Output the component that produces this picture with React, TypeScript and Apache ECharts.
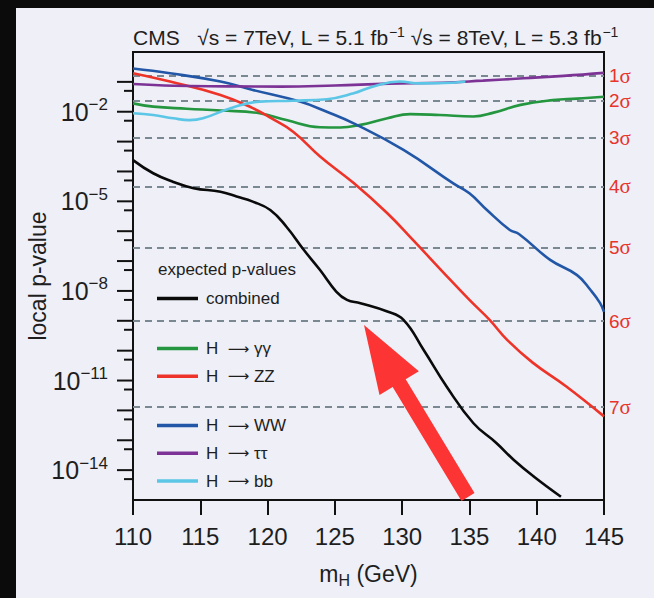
import React, { useEffect, useRef } from "react";
import * as echarts from "echarts";

// Expected local p-values, stored as log10(p), against Higgs mass m_H in GeV.
const massCombined = [110, 111.5, 113, 114.5, 116.5, 117.7, 118.9, 120.2, 121.4, 122.7, 123.9, 125.1, 125.9, 126.9, 128.9, 130.1, 131.6, 133.3, 135.3, 137.0, 138.3, 139.8, 141.8];
const logPCombined = [-3.62, -4.06, -4.35, -4.56, -4.68, -4.84, -5.01, -5.29, -5.85, -6.63, -7.3, -8.02, -8.3, -8.41, -8.69, -8.97, -9.98, -11.2, -12.43, -13.09, -13.66, -14.22, -14.89];

const massGG = [110, 111.5, 114, 116.5, 119.4, 121.4, 123.9, 125.4, 126.9, 128.9, 130.6, 132.8, 135.3, 136.8, 138.8, 141.2, 143, 145];
const logPGG = [-1.72, -1.83, -1.9, -1.96, -2.05, -2.28, -2.52, -2.53, -2.44, -2.22, -2.08, -2.11, -2.16, -2.03, -1.77, -1.61, -1.56, -1.5];

const massZZ = [110, 112.75, 116.5, 118.9, 120.2, 121.9, 123.9, 126.4, 128.9, 130.8, 133.0, 135.0, 136.5, 137.8, 139.7, 142.2, 145];
const logPZZ = [-0.71, -0.99, -1.44, -1.88, -2.2, -2.67, -3.5, -4.39, -5.4, -6.29, -7.35, -8.3, -8.97, -9.64, -10.4, -11.2, -12.2];

const massWW = [110, 112.75, 116.5, 118.9, 122.4, 124.4, 126.4, 130.1, 133.8, 135.0, 136.3, 138.0, 138.7, 141.0, 143.0, 144.0, 144.7, 145];
const logPWW = [-0.55, -0.71, -0.99, -1.27, -1.66, -2.0, -2.39, -3.28, -4.4, -4.73, -5.29, -5.96, -6.1, -6.96, -7.47, -7.97, -8.4, -8.7];

const massTT = [110, 113, 117, 121, 125, 129, 133, 136, 139, 142, 145];
const logPTT = [-1.07, -1.13, -1.15, -1.16, -1.12, -1.06, -1.03, -0.96, -0.88, -0.8, -0.7];

const massBB = [110, 111.5, 113, 114.2, 115.2, 117.2, 119.4, 121.9, 124.4, 126.4, 127.8, 129.8, 131.3, 133.7, 134.7];
const logPBB = [-2.05, -2.11, -2.22, -2.28, -2.22, -1.89, -1.66, -1.63, -1.58, -1.38, -1.16, -0.99, -1.05, -1.03, -0.99];

// One-sided Gaussian tail probabilities for 1..7 sigma
const sigmaLevels = [1, 2, 3, 4, 5, 6, 7];
const sigmaPValues = [1.587e-1, 2.275e-2, 1.35e-3, 3.167e-5, 2.867e-7, 9.866e-10, 1.28e-12];

// Axis ticks
const massTickStep = 5;
const decadeExponents = [-14, -13, -12, -11, -10, -9, -8, -7, -6, -5, -4, -3, -2, -1];
const labelledExponents = [-14, -11, -8, -5, -2];
const minorTickMantissa = 5;

const channels = [
  { name: "combined", color: "#0a0a0a", mass: massCombined, logP: logPCombined },
  { name: "H → γγ", color: "#23963f", mass: massGG, logP: logPGG },
  { name: "H → ZZ", color: "#ee3328", mass: massZZ, logP: logPZZ },
  { name: "H → WW", color: "#2256a6", mass: massWW, logP: logPWW },
  { name: "H → ττ", color: "#7c3395", mass: massTT, logP: logPTT },
  { name: "H → bb", color: "#5cc6e6", mass: massBB, logP: logPBB },
];

const FONT = "'Liberation Sans', Arial, sans-serif";
const ARROW_FONT = "'DejaVu Sans', sans-serif";
const INK = "#1e1e1e";

const arrowTail = [468, 497];
const arrowTip = [364, 325];

function arrowPoints(): number[][] {
  const dx = arrowTip[0] - arrowTail[0];
  const dy = arrowTip[1] - arrowTail[1];
  const len = Math.hypot(dx, dy);
  const ux = dx / len, uy = dy / len;
  const px = -uy, py = ux;
  const headLen = 68, shaftHalf = 7.6, headHalf = 23;
  const bx = arrowTip[0] - ux * headLen, by = arrowTip[1] - uy * headLen;
  return [
    [arrowTail[0] + px * shaftHalf, arrowTail[1] + py * shaftHalf],
    [bx + px * shaftHalf, by + py * shaftHalf],
    [bx + px * headHalf, by + py * headHalf],
    [arrowTip[0], arrowTip[1]],
    [bx - px * headHalf, by - py * headHalf],
    [bx - px * shaftHalf, by - py * shaftHalf],
    [arrowTail[0] - px * shaftHalf, arrowTail[1] - py * shaftHalf],
  ];
}

// "H → xx" drawn with a long, thin arrow glyph
function legendLabel(name: string): string {
  const parts = name.split(" → ");
  if (parts.length !== 2) return `{t|${name}}`;
  return `{t|${parts[0]}  }{a|⟶}{t| ${parts[1]}}`;
}

export default function App() {
  const ref = useRef<HTMLDivElement>(null);

  useEffect(() => {
    if (!ref.current) return;
    const chart = echarts.init(ref.current, undefined, { renderer: "svg" });

    const tickMarks = [
      ...decadeExponents.map((e) => [110, e, 16]),
      ...decadeExponents.map((e) => [110, Math.log10(minorTickMantissa * Math.pow(10, e - 1)), 9]),
    ];

    const legendBlock = (names: string[], top: number) => ({
      show: true,
      orient: "vertical",
      left: 157,
      top,
      padding: 0,
      data: names,
      icon: "rect",
      itemWidth: 41,
      itemHeight: 3.5,
      itemGap: 10.8,
      selectedMode: false,
      formatter: legendLabel,
      textStyle: {
        padding: [0, 0, 0, 3],
        rich: {
          t: { fontFamily: FONT, fontSize: 17, color: INK },
          a: { fontFamily: ARROW_FONT, fontSize: 15, color: INK },
        },
      },
    });

    chart.setOption({
      animation: false,
      backgroundColor: "transparent",
      title: {
        text: "{t|CMS   √s = 7TeV, L = 5.1 fb}{s|−1}{t| √s = 8TeV, L = 5.3 fb}{s|−1}",
        left: 128,
        top: 20,
        textStyle: {
          fontWeight: "normal",
          rich: {
            t: { fontFamily: FONT, fontSize: 21, fontWeight: "normal", color: INK },
            s: { fontFamily: FONT, fontSize: 14, fontWeight: "normal", color: INK, padding: [0, 0, 10, 0] },
          },
        },
      },
      graphic: [
        {
          type: "rect",
          z: -100,
          silent: true,
          shape: { x: 16, y: 8, width: 640, height: 592 },
          style: { fill: "#eeeff7" },
        },
        {
          type: "text",
          left: 158,
          top: 261,
          z: 50,
          style: { text: "expected p-values", fontFamily: FONT, fontSize: 17, fill: INK },
        },
        {
          type: "polygon",
          z: 100,
          silent: true,
          shape: { points: arrowPoints() },
          style: { fill: "#fd3434" },
        },
      ],
      legend: [
        legendBlock(["combined"], 290),
        legendBlock(["H → γγ", "H → ZZ"], 340),
        legendBlock(["H → WW", "H → ττ", "H → bb"], 417),
      ],
      grid: {
        left: 133,
        top: 52,
        width: 471,
        height: 448,
        show: true,
        borderColor: "#111",
        borderWidth: 2,
        backgroundColor: "transparent",
      },
      xAxis: {
        type: "value",
        min: 110,
        max: 145,
        interval: massTickStep,
        name: "{m|m}{h|H}{m| (GeV)}",
        nameLocation: "middle",
        nameGap: 60,
        nameMoveOverlap: false,
        nameTextStyle: {
          rich: {
            m: { fontFamily: FONT, fontSize: 23, color: INK },
            h: { fontFamily: FONT, fontSize: 16, color: INK, padding: [12, 0, 0, 0] },
          },
        },
        axisLine: { onZero: false, lineStyle: { color: "#111", width: 2 } },
        axisTick: { show: true, inside: false, length: 15, lineStyle: { color: "#111", width: 2 } },
        axisLabel: { fontFamily: FONT, fontSize: 24, color: INK, margin: 24 },
        splitLine: { show: false },
      },
      yAxis: {
        type: "value",
        min: -15,
        max: 0,
        interval: 1,
        name: "local p-value",
        nameLocation: "middle",
        nameGap: 84,
        nameMoveOverlap: false,
        nameTextStyle: { fontFamily: FONT, fontSize: 23, color: INK },
        axisLine: { onZero: false, lineStyle: { color: "#111", width: 2 } },
        axisTick: { show: false },
        axisLabel: {
          margin: 25,
          formatter: (v: number) =>
            labelledExponents.includes(Math.round(v)) ? `{b|10}{s|−${-Math.round(v)}}` : "",
          rich: {
            b: { fontFamily: FONT, fontSize: 25, color: INK },
            s: { fontFamily: FONT, fontSize: 17, color: INK, padding: [0, 0, 14, 0] },
          },
        },
        splitLine: { show: false },
      },
      series: [
        {
          type: "line",
          name: "sigma",
          data: [],
          silent: true,
          z: 1,
          markLine: {
            silent: true,
            symbol: "none",
            animation: false,
            lineStyle: { color: "#7a8891", width: 1.8, type: [7, 5] },
            label: {
              show: true,
              position: "end",
              distance: 5,
              formatter: (p: any) => `{d|${p.name}}{g|σ}`,
              rich: {
                d: { fontFamily: FONT, fontSize: 19, color: "#e8342a" },
                g: { fontFamily: "'Liberation Serif', 'DejaVu Serif', serif", fontSize: 21, color: "#e8342a" },
              },
            },
            data: sigmaLevels.map((s, i) => ({ name: String(s), yAxis: Math.log10(sigmaPValues[i]) })),
          },
        },
        ...channels.map((c) => ({
          type: "line",
          name: c.name,
          data: c.mass.map((m, i) => [m, c.logP[i]]),
          showSymbol: false,
          smooth: 0.45,
          silent: true,
          z: 5,
          lineStyle: { color: c.color, width: 2.6 },
          itemStyle: { color: c.color },
        })),
        {
          type: "custom",
          name: "yTicks",
          silent: true,
          clip: false,
          z: 6,
          data: tickMarks,
          renderItem: (_params: any, api: any) => {
            const p = api.coord([api.value(0), api.value(1)]);
            const len = api.value(2);
            return {
              type: "line",
              shape: { x1: p[0] - len, y1: p[1], x2: p[0], y2: p[1] },
              style: { stroke: "#111", lineWidth: 2 },
            };
          },
        },
      ],
    });

    return () => chart.dispose();
  }, []);

  return (
    <div style={{ position: "fixed", left: 0, top: 0, width: 654, height: 598, background: "#0b0b0b" }}>
      <div ref={ref} style={{ width: 654, height: 598 }} />
    </div>
  );
}
